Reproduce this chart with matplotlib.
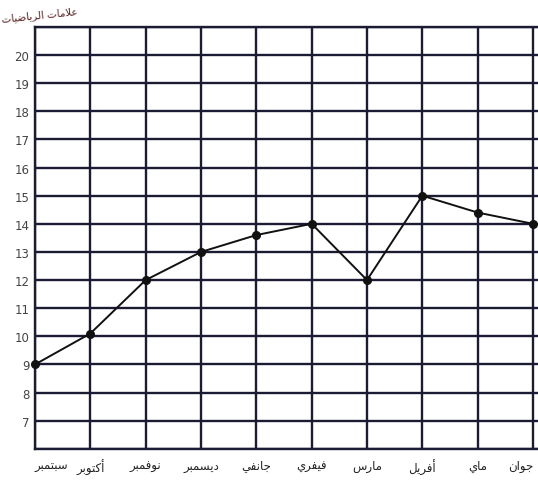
import numpy as np
import matplotlib.pyplot as plt

# months (Algerian naming) and the marks
months = ["سبتمبر", "أكتوبر", "نوفمبر", "ديسمبر", "جانفي",
          "فيفري", "مارس", "أفريل", "ماي", "جوان"]
marks = [9, 10.1, 12, 13, 13.6, 14, 12, 15, 14.4, 14]
y_ticks = list(range(6, 22))
y_title = "علامات الرياضيات"

# Arabic presentation forms: isolated, final, initial, medial
forms = {
    "ا": ("\uFE8D", "\uFE8E", None, None),
    "أ": ("\uFE83", "\uFE84", None, None),
    "ب": ("\uFE8F", "\uFE90", "\uFE91", "\uFE92"),
    "ت": ("\uFE95", "\uFE96", "\uFE97", "\uFE98"),
    "ج": ("\uFE9D", "\uFE9E", "\uFE9F", "\uFEA0"),
    "د": ("\uFEA9", "\uFEAA", None, None),
    "ر": ("\uFEAD", "\uFEAE", None, None),
    "س": ("\uFEB1", "\uFEB2", "\uFEB3", "\uFEB4"),
    "ض": ("\uFEBD", "\uFEBE", "\uFEBF", "\uFEC0"),
    "ع": ("\uFEC9", "\uFECA", "\uFECB", "\uFECC"),
    "ف": ("\uFED1", "\uFED2", "\uFED3", "\uFED4"),
    "ك": ("\uFED9", "\uFEDA", "\uFEDB", "\uFEDC"),
    "ل": ("\uFEDD", "\uFEDE", "\uFEDF", "\uFEE0"),
    "م": ("\uFEE1", "\uFEE2", "\uFEE3", "\uFEE4"),
    "ن": ("\uFEE5", "\uFEE6", "\uFEE7", "\uFEE8"),
    "و": ("\uFEED", "\uFEEE", None, None),
    "ي": ("\uFEF1", "\uFEF2", "\uFEF3", "\uFEF4"),
    "لا": ("\uFEFB", "\uFEFC", None, None),
    "لأ": ("\uFEF7", "\uFEF8", None, None),
}


def shape(text):
    # merge lam-alef, then pick joined forms, then reverse for display
    units = []
    i = 0
    while i < len(text):
        if text[i] == "ل" and i + 1 < len(text) and text[i + 1] in "اأ":
            units.append(text[i:i + 2])
            i += 2
        else:
            units.append(text[i])
            i += 1
    out = []
    for k, u in enumerate(units):
        if u not in forms:
            out.append(u)
            continue
        prev = units[k - 1] if k > 0 else None
        nxt = units[k + 1] if k + 1 < len(units) else None
        join_prev = prev in forms and forms[prev][2] is not None
        join_next = forms[u][2] is not None and nxt in forms
        iso, fin, ini, med = forms[u]
        if join_prev and join_next:
            out.append(med)
        elif join_prev:
            out.append(fin)
        elif join_next:
            out.append(ini)
        else:
            out.append(iso)
    return "".join(out)[::-1]


ink = "#1b1b33"
fig = plt.figure(figsize=(5.38, 4.89), dpi=100)
ax = fig.add_axes([0.065, 0.08, 0.935, 0.863])

x = np.arange(len(months))
ax.plot(x, marks, color="#111111", lw=1.4, marker="o", ms=5.5, zorder=3, clip_on=False)

ax.set_xlim(0, 9.09)
ax.set_ylim(6, 21)
ax.set_xticks(x)
ax.set_xticklabels([shape(m) for m in months], fontsize=8.5, color="#222222")
ax.set_yticks(y_ticks)
ax.set_yticklabels([str(v) if 6 < v < 21 else "" for v in y_ticks],
                   fontsize=8.5, color="#444444")
ax.tick_params(length=0)
ax.tick_params(axis="x", pad=7)
ax.tick_params(axis="y", pad=4)
lbls = ax.get_xticklabels()
lbls[0].set_horizontalalignment("left")
lbls[-1].set_horizontalalignment("right")
ax.grid(True, color=ink, lw=1.7)
ax.set_axisbelow(True)
for side in ["left", "bottom", "top"]:
    ax.spines[side].set_color(ink)
    ax.spines[side].set_linewidth(1.7)
ax.spines["right"].set_visible(False)

fig.text(0.145, 0.97, shape(y_title), fontsize=7.5, ha="right", va="center",
         color="#5a2020", rotation=6)

fig.savefig("out.png", dpi=100)
